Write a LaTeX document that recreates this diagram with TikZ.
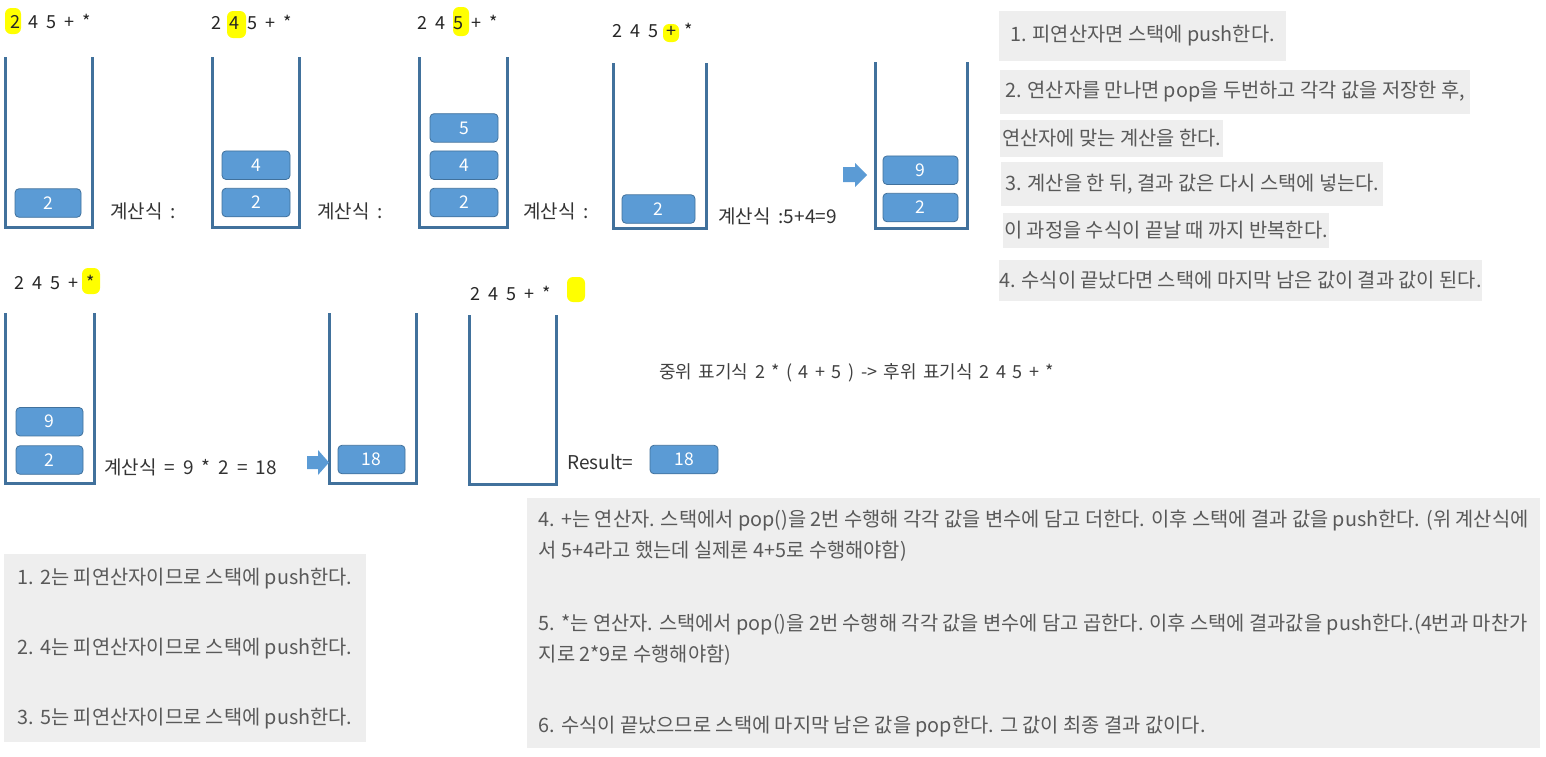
\documentclass[tikz,border=0pt]{standalone}
\usepackage{fontspec}
\setmainfont{Noto Sans CJK KR}
\usetikzlibrary{positioning}
\definecolor{stackblue}{RGB}{65,113,156}
\definecolor{elemblue}{RGB}{91,155,213}
\definecolor{elemedge}{RGB}{65,113,156}
\definecolor{notebg}{RGB}{238,238,238}
\definecolor{notetext}{RGB}{89,89,89}
\definecolor{hlyellow}{RGB}{255,255,0}

\tikzset{
  stackline/.style={stackblue, line width=3pt},
  elem/.style={rectangle, rounded corners=4pt, fill=elemblue, draw=elemedge, line width=0.8pt,
    text=white, minimum width=67pt, minimum height=28.5pt, inner sep=0pt,
    font={\fontsize{17.5}{20}\selectfont}},
  expr/.style={anchor=west, inner sep=0pt, text=black!85,
    font={\fontsize{18}{20}\selectfont\spaceskip=8pt\relax}},
  calc/.style={anchor=west, inner sep=0pt, text=black!80,
    font={\fontsize{19}{20}\selectfont\spaceskip=8pt\relax}},
  infix/.style={anchor=west, inner sep=0pt, text=black!75,
    font={\fontsize{18}{20}\selectfont\spaceskip=6.5pt\relax}},
  hl/.style={fill=hlyellow, rounded corners=6pt},
  blockarr/.style={fill=elemblue},
  note/.style={fill=notebg, text=notetext, anchor=west, inner ysep=0pt,
    font={\fontsize{19.8}{22}\selectfont}},
  notepanel/.style={fill=notebg, text=notetext, align=left, inner sep=0pt},
}

\begin{document}
\begin{tikzpicture}[x=1pt, y=-1pt]
  \useasboundingbox (0,0) rectangle (1546,756);

  % highlighted token of each step
  \fill[hl] (5,8) rectangle (21,34);
  \fill[hl] (227,11) rectangle (246,38);
  \fill[hl] (453,7) rectangle (469,36);
  \fill[hl] (663,24) rectangle (679,42);
  \fill[hl] (82,268) rectangle (100,294);
  \fill[hl] (567,277) rectangle (585,302);

  % postfix expressions
  \node[expr] (e1) at (10,21) {2 4 5 + *};
  \node[expr] (e2) at (211,22) {2 4 5 + *};
  \node[expr] (e3) at (417,22) {2 4 5 + *};
  \node[expr] (e4) at (612,30) {2 4 5 + *};
  \node[expr] (e5) at (14,282) {2 4 5 + *};
  \node[expr] (e6) at (470,293) {2 4 5 + *};

  % stacks
  \foreach \l/\r/\t/\b in {5/92/57/227, 212/299/57/227, 419/507/57/227, 613/706/63/228,
                           875/967/62/228, 5/94/313/483, 329/416/313/483, 469/556/315/484}
    \draw[stackline] (\l,\t) -- (\l,\b) -- (\r,\b) -- (\r,\t);

  % stack contents
  \node[elem, minimum width=66pt] (s1a) at (48,203) {2};

  \node[elem, minimum width=68pt] (s2a) at (256,202.5) {2};
  \node[elem, minimum width=68pt, above=8pt of s2a] (s2b) {4};

  \node[elem, minimum width=68pt] (s3a) at (464,202.5) {2};
  \node[elem, minimum width=68pt, above=8pt of s3a] (s3b) {4};
  \node[elem, minimum width=68pt, above=8pt of s3b] (s3c) {5};

  \node[elem, minimum width=73pt] (s4a) at (658.5,209) {2};

  \node[elem, minimum width=75pt] (s5a) at (920.5,207.5) {2};
  \node[elem, minimum width=75pt, above=8pt of s5a] (s5b) {9};

  \node[elem] (s6a) at (49.5,460) {2};
  \node[elem, above=9pt of s6a] (s6b) {9};

  \node[elem] (s7a) at (371.5,459.5) {18};

  % calculations
  \node[calc] (c1) at (110,211) {계산식 :};
  \node[calc] (c2) at (317,211) {계산식 :};
  \node[calc] (c3) at (523,211) {계산식 :};
  \node[calc] (c4) at (718,216) {계산식 :5+4=9};
  \node[calc] (c5) at (104,467) {계산식 = 9 * 2 = 18};
  \node[calc] (rlabel) at (567,462) {Result=};
  \node[elem, minimum width=68pt] (res) at (684,459.5) {18};

  % block arrows
  \fill[blockarr] (843,167) -- (855,167) -- (855,163) -- (867,175)
    -- (855,187) -- (855,182) -- (843,182) -- cycle;
  \fill[blockarr] (307,456) -- (318,456) -- (318,450) -- (329,462.5)
    -- (318,475) -- (318,469) -- (307,469) -- cycle;

  \node[infix] (conv) at (659,373) {중위 표기식 2 * ( 4 + 5 ) -> 후위 표기식 2 4 5 + *};

  % rules
  \node[note, inner xsep=11pt, minimum height=50pt] (n1) at (999,36) {1. 피연산자면 스택에 push한다.};
  \node[note, inner xsep=5pt, minimum height=44pt] (n2) at (1000,92) {2. 연산자를 만나면 pop을 두번하고 각각 값을 저장한 후,};
  \node[note, inner xsep=2pt, minimum height=37pt] (n3) at (1000,138.5) {연산자에 맞는 계산을 한다.};
  \node[note, inner xsep=4pt, minimum height=44pt] (n4) at (1001,184) {3. 계산을 한 뒤, 결과 값은 다시 스택에 넣는다.};
  \node[note, inner xsep=1pt, minimum height=35pt] (n5) at (1003,230.5) {이 과정을 수식이 끝날 때 까지 반복한다.};
  \node[note, inner xsep=0pt, minimum height=41pt] (n6) at (999,280.5) {4. 수식이 끝났다면 스택에 마지막 남은 값이 결과 값이 된다.\hspace{13pt}};

  % step notes
  \node[notepanel, minimum width=362pt, minimum height=188pt, anchor=north west,
    font={\fontsize{19.8}{70}\selectfont}] (pushnotes) at (4,554)
    {1. 2는 피연산자이므로 스택에 push한다.\\
     2. 4는 피연산자이므로 스택에 push한다.\\
     3. 5는 피연산자이므로 스택에 push한다.};
  \node[notepanel, minimum width=1013pt, minimum height=250pt, anchor=north west,
    font={\fontsize{19.8}{31}\selectfont}] (opnotes) at (527,498)
    {4. +는 연산자. 스택에서 pop()을 2번 수행해 각각 값을 변수에 담고 더한다. 이후 스택에 결과 값을 push한다. (위 계산식에\\
     서 5+4라고 했는데 실제론 4+5로 수행해야함)\\[42pt]
     5. *는 연산자. 스택에서 pop()을 2번 수행해 각각 값을 변수에 담고 곱한다. 이후 스택에 결과값을 push한다.(4번과 마찬가\\
     지로 2*9로 수행해야함)\\[40pt]
     6. 수식이 끝났으므로 스택에 마지막 남은 값을 pop한다. 그 값이 최종 결과 값이다.};
\end{tikzpicture}
\end{document}
